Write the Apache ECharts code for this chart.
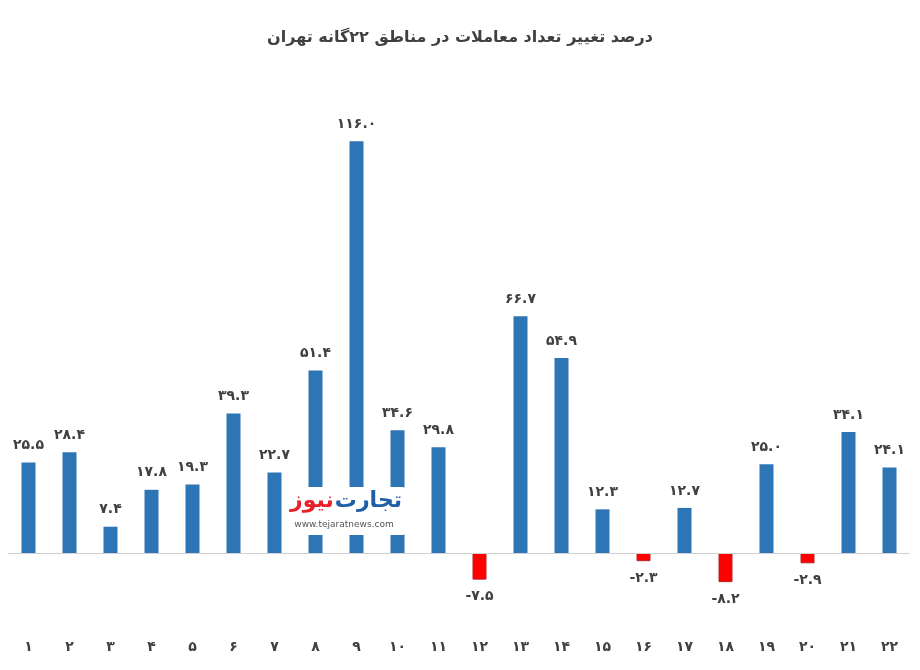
<!DOCTYPE html>
<html><head><meta charset="utf-8">
<script src="https://cdn.jsdelivr.net/npm/echarts@6/dist/echarts.min.js"></script>
<style>html,body{margin:0;padding:0;background:#fff}#c{width:920px;height:670px}</style>
</head><body><div id="c"></div>
<script>
const titleText = 'درصد تغییر تعداد معاملات در مناطق ۲۲گانه تهران';
const categories = ['1','2','3','4','5','6','7','8','9','10','11','12','13','14','15','16','17','18','19','20','21','22'];
const values = [25.5, 28.4, 7.4, 17.8, 19.3, 39.3, 22.7, 51.4, 116.0, 34.6, 29.8, -7.5, 66.7, 54.9, 12.3, -2.3, 12.7, -8.2, 25.0, -2.9, 34.1, 24.1];

const fa = s => String(s).replace(/[0-9]/g, d => '۰۱۲۳۴۵۶۷۸۹'[+d]);
const FONT = '"DejaVu Sans", sans-serif';

const data = values.map(v => v >= 0 ? {
  value: v,
  itemStyle: { color: '#2E75B6' },
  label: { position: 'top' }
} : {
  value: v,
  itemStyle: { color: '#FF0000', borderColor: '#B22222', borderWidth: 1 },
  label: { position: 'bottom' }
});

const chart = echarts.init(document.getElementById('c'));
chart.setOption({
  animation: false,
  title: {
    text: titleText, left: 'center', top: 25,
    textStyle: { fontFamily: FONT, fontSize: 16, fontWeight: 'bold', color: '#404040' }
  },
  grid: { left: 8, right: 10, top: 127, bottom: 46, containLabel: false },
  xAxis: {
    type: 'category', data: categories,
    axisLine: { show: false, onZero: false },
    axisTick: { show: false },
    axisLabel: { formatter: v => fa(v), margin: 16, color: '#404040', fontFamily: FONT, fontSize: 14, fontWeight: 'bold' }
  },
  yAxis: {
    type: 'value', min: -20, max: 120, show: false
  },
  series: [{
    type: 'bar', data: data, barWidth: 14,
    label: {
      show: true, distance: 10,
      formatter: p => fa(p.value.toFixed(1)),
      color: '#404040', fontFamily: FONT, fontSize: 14, fontWeight: 'bold'
    },
    markLine: {
      silent: true, symbol: 'none', label: { show: false },
      lineStyle: { color: '#D0D0D0', type: 'solid', width: 1 },
      data: [{ yAxis: 0 }]
    }
  }],
  graphic: [
    { type: 'rect', z: 100, shape: { x: 282, y: 487, width: 124, height: 48, r: 4 }, style: { fill: '#ffffff' } },
    { type: 'text', z: 101, style: { x: 402, y: 490, text: 'تجارت', fill: '#1F5FA8', font: 'bold 22px "DejaVu Sans"', textAlign: 'right' } },
    { type: 'text', z: 101, style: { x: 290, y: 490, text: 'نیوز', fill: '#E8202A', font: 'bold 22px "DejaVu Sans"', textAlign: 'left' } },
    { type: 'text', z: 101, style: { x: 344, y: 520, text: 'www.tejaratnews.com', fill: '#555', font: '9px "DejaVu Sans"', textAlign: 'center' } }
  ]
});
</script></body></html>
